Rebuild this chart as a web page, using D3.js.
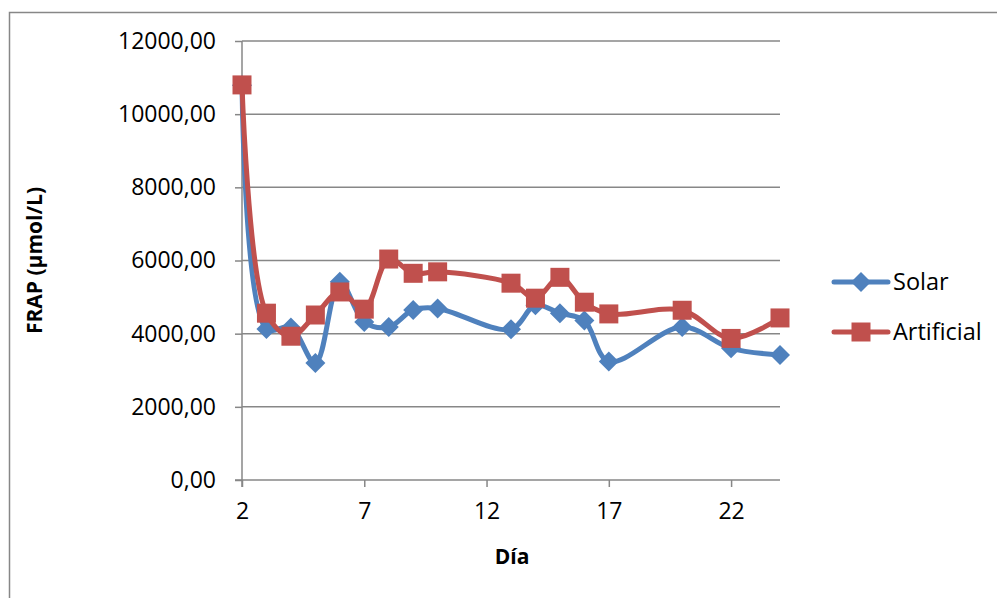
<!DOCTYPE html>
<html>
<head>
<meta charset="utf-8">
<script src="https://cdn.jsdelivr.net/npm/d3@7"></script>
<style>
  html, body { margin: 0; padding: 0; background: #fff; }
  svg { display: block; font-family: "Open Sans", "Noto Sans", sans-serif; }
</style>
</head>
<body>
<svg id="chart" width="997" height="598"></svg>
<script>
const days = [2, 3, 4, 5, 6, 7, 8, 9, 10, 13, 14, 15, 16, 17, 20, 22, 24];
const solar = [10790, 4130, 4170, 3200, 5420, 4320, 4180, 4650, 4690, 4120, 4780, 4560, 4360, 3240, 4180, 3600, 3420];
const artificial = [10800, 4560, 3930, 4510, 5140, 4670, 6040, 5650, 5690, 5380, 4970, 5540, 4860, 4540, 4640, 3870, 4430];
const yTicks = [0, 2000, 4000, 6000, 8000, 10000, 12000];
const xTicks = [2, 7, 12, 17, 22];
const seriesNames = ["Solar", "Artificial"];
const colors = ["#4F81BD", "#C0504D"];

const svg = d3.select("#chart");
const W = 997, H = 598;

// outer chart border
svg.append("rect").attr("x", 9.5).attr("y", 12.5).attr("width", W + 20).attr("height", H + 20)
  .attr("fill", "none").attr("stroke", "#878787").attr("stroke-width", 1.5);

const pLeft = 242, pRight = 780, pTop = 41, pBottom = 480;
const x = d3.scaleLinear().domain([2, 24]).range([pLeft, pRight]);
const y = d3.scaleLinear().domain([0, 12000]).range([pBottom, pTop]);

const fmt = v => d3.format(".2f")(v).replace(".", ",");

// gridlines
svg.append("g").selectAll("line").data(yTicks.filter(d => d > 0)).join("line")
  .attr("x1", pLeft).attr("x2", pRight)
  .attr("y1", d => y(d)).attr("y2", d => y(d))
  .attr("stroke", "#878787").attr("stroke-width", 1.5);

// y axis
const yAxis = svg.append("g").attr("transform", `translate(${pLeft},0)`)
  .call(d3.axisLeft(y).tickValues(yTicks).tickFormat(fmt).tickSize(7).tickPadding(19));
yAxis.select(".domain").attr("stroke", "#878787").attr("stroke-width", 1.5).attr("d", `M0,${pTop}V${pBottom + 7}`);
yAxis.selectAll(".tick line").attr("stroke", "#878787").attr("stroke-width", 1.5);
yAxis.selectAll(".tick text").attr("font-size", 23).attr("fill", "#000")
  .attr("font-family", "'Open Sans', sans-serif");

// x axis
const xAxis = svg.append("g").attr("transform", `translate(0,${pBottom})`)
  .call(d3.axisBottom(x).tickValues(xTicks).tickFormat(d3.format("d")).tickSize(7).tickPadding(16));
xAxis.select(".domain").attr("stroke", "#878787").attr("stroke-width", 1.5).attr("d", `M${pLeft - 7},0H${pRight}`);
xAxis.selectAll(".tick line").attr("stroke", "#878787").attr("stroke-width", 1.5);
xAxis.selectAll(".tick text").attr("font-size", 23).attr("fill", "#000")
  .attr("font-family", "'Open Sans', sans-serif");

// axis titles
svg.append("text").attr("x", 512).attr("y", 564).attr("text-anchor", "middle")
  .attr("font-size", 21).attr("font-weight", "bold").text("Día");
svg.append("text").attr("transform", `translate(42,${(pTop + pBottom) / 2}) rotate(-90)`)
  .attr("text-anchor", "middle").attr("font-size", 21).attr("font-weight", "bold").text("FRAP (µmol/L)");

const line = d3.line().x(d => x(d[0])).y(d => y(d[1])).curve(d3.curveCatmullRom.alpha(0.5));
const diamond = s => `M0,${-s}L${s},0L0,${s}L${-s},0Z`;
const square = s => `M${-s},${-s}H${s}V${s}H${-s}Z`;

const data = [solar, artificial];
data.forEach((vals, i) => {
  const pts = days.map((d, j) => [d, vals[j]]);
  svg.append("path").datum(pts).attr("d", line).attr("fill", "none")
    .attr("stroke", colors[i]).attr("stroke-width", 5).attr("stroke-linejoin", "round");
  svg.append("g").selectAll("path").data(pts).join("path")
    .attr("transform", d => `translate(${x(d[0])},${y(d[1])})`)
    .attr("d", i === 0 ? diamond(10) : square(9.5))
    .attr("fill", colors[i]);
});

// legend
const legY = [282, 332];
seriesNames.forEach((name, i) => {
  const g = svg.append("g").attr("transform", `translate(0,${legY[i]})`);
  g.append("line").attr("x1", 834).attr("x2", 888).attr("y1", 0).attr("y2", 0)
    .attr("stroke", colors[i]).attr("stroke-width", 5).attr("stroke-linecap", "round");
  g.append("path").attr("transform", "translate(861,0)")
    .attr("d", i === 0 ? diamond(10) : square(9.5)).attr("fill", colors[i]);
  g.append("text").attr("x", 893).attr("y", 8).attr("font-size", 23.5).attr("fill", "#000").text(name);
});
</script>
</body>
</html>
